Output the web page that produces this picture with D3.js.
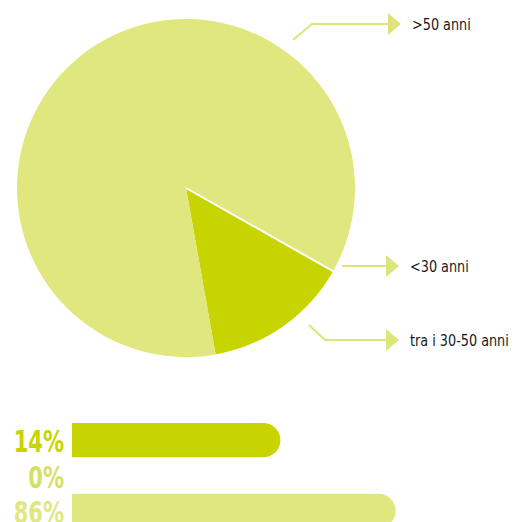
<!DOCTYPE html>
<html>
<head>
<meta charset="utf-8">
<script src="https://cdn.jsdelivr.net/npm/d3@7"></script>
<style>
    html, body { margin: 0; padding: 0; background: #fff; overflow: hidden; }
</style>
</head>
<body>
<div id="draw"></div>
<script>
(function () {
    "use strict";

    // data
    var categories = ['<30 anni', 'tra i 30-50 anni', '>50 anni'],
        values = [14, 0, 86],
        colors = ['#c8d400', '#d6df66', '#e0e77e'],
        pctLabels = ['14%', '0%', '86%'];

    var width = 514,
        height = 522,
        cx = 186,
        cy = 188,
        rad = 169,
        startDeg = 119.5;

    var svg = d3.select('#draw').append('svg')
        .attr('width', width)
        .attr('height', height);

    // pie
    var pie = d3.pie().sort(null).value(function (d) { return d; })
        .startAngle(startDeg * Math.PI / 180)
        .endAngle(startDeg * Math.PI / 180 + 2 * Math.PI);
    var arcs = pie(values);
    var arc = d3.arc().innerRadius(0).outerRadius(rad);

    var g = svg.append('g').attr('transform', 'translate(' + cx + ',' + cy + ')');
    g.selectAll('path.slice')
        .data(arcs)
        .enter().append('path')
        .attr('class', 'slice')
        .attr('d', arc)
        .attr('fill', function (d, i) { return i === 1 ? 'none' : colors[i]; });

    // white separator along the start of the small slice
    var a0 = arcs[0].startAngle;
    g.append('line')
        .attr('x1', 0).attr('y1', 0)
        .attr('x2', Math.sin(a0) * rad)
        .attr('y2', -Math.cos(a0) * rad)
        .attr('stroke', '#fff')
        .attr('stroke-width', 2);

    // leader arrows (one per category)
    var leaders = [
        {pts: [[342, 266], [386, 266]]},
        {pts: [[309, 325], [325, 340], [386, 340]]},
        {pts: [[293, 40], [312, 24], [388, 24]]}
    ];
    var lineCol = '#dce57a';

    leaders.forEach(function (l, i) {
        var end = l.pts[l.pts.length - 1];
        svg.append('path')
            .attr('d', d3.line()(l.pts))
            .attr('fill', 'none')
            .attr('stroke', lineCol)
            .attr('stroke-width', 2);
        svg.append('path')
            .attr('d', 'M' + end[0] + ',' + (end[1] - 11) + ' L' + (end[0] + 13) + ',' + end[1] +
                ' L' + end[0] + ',' + (end[1] + 11) + ' Z')
            .attr('fill', lineCol);
        svg.append('text')
            .attr('transform', 'translate(' + (end[0] + 24) + ',' + (end[1] + 6) + ') scale(0.92,1)')
            .attr('font-family', '"DejaVu Sans Condensed", "DejaVu Sans", sans-serif')
            .attr('font-size', 15.5)
            .attr('fill', '#1a1a1a')
            .text(categories[i]);
    });

    // bars
    var y = d3.scaleBand().domain(pctLabels).range([423, 528]).paddingInner(0.03);
    var xEnd = d3.scaleLinear().domain([0, 100]).range([258, 418]);
    var x0 = 72;

    function barPath(x1, y0, h) {
        var r = h / 2;
        return 'M' + x0 + ',' + y0 + ' H' + (x1 - r) +
            ' A' + r + ',' + r + ' 0 0 1 ' + (x1 - r) + ',' + (y0 + h) +
            ' H' + x0 + ' Z';
    }

    pctLabels.forEach(function (lab, i) {
        if (values[i] > 0) {
            svg.append('path')
                .attr('d', barPath(xEnd(values[i]), y(lab), y.bandwidth()))
                .attr('fill', colors[i]);
        }
        svg.append('text')
            .attr('transform', 'translate(64,' + (y(lab) + y.bandwidth() / 2 + 12) + ') scale(0.78,1)')
            .attr('text-anchor', 'end')
            .attr('font-family', '"DejaVu Sans Condensed", "DejaVu Sans", sans-serif')
            .attr('font-weight', 'bold')
            .attr('font-size', 30)
            .attr('fill', colors[i])
            .text(lab);
    });
}());
</script>
</body>
</html>
